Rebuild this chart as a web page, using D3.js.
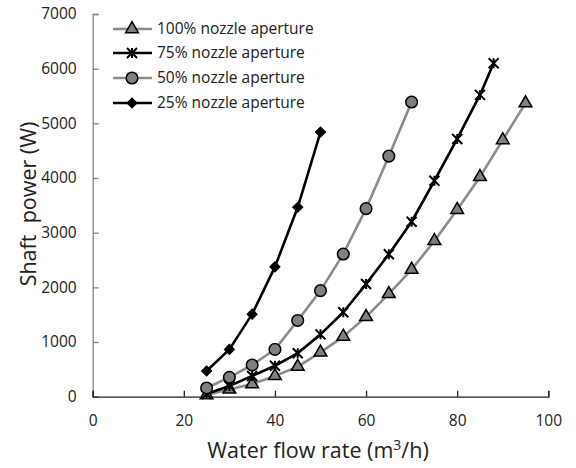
<!DOCTYPE html>
<html>
<head>
<meta charset="utf-8">
<script src="https://cdn.jsdelivr.net/npm/d3@7"></script>
<style>
html,body{margin:0;padding:0;background:#fff;}
svg{display:block;font-family:"Open Sans","Noto Sans",sans-serif;}
</style>
</head>
<body>
<svg id="chart" width="576" height="468"></svg>
<script>
const seriesNames = ["100% nozzle aperture","75% nozzle aperture","50% nozzle aperture","25% nozzle aperture"];
const flow100 = [25,30,35,40,45,50,55,60,65,70,75,80,85,90,95];
const power100 = [30,135,230,380,550,810,1100,1460,1880,2325,2850,3420,4020,4695,5370];
const flow75 = [25,30,35,40,45,50,55,60,65,70,75,80,85,88];
const power75 = [50,195,380,565,795,1140,1545,2060,2605,3200,3950,4715,5520,6100];
const flow50 = [25,30,35,40,45,50,55,60,65,70];
const power50 = [160,355,580,865,1395,1940,2610,3440,4400,5390];
const flow25 = [25,30,35,40,45,50];
const power25 = [470,865,1510,2375,3465,4840];
const xTicks = [0,20,40,60,80,100];
const yTicks = [0,1000,2000,3000,4000,5000,6000,7000];

const series = [
  {name: seriesNames[0], xs: flow100, ys: power100, line: "#8c8c8c", marker: "triangle", fill: "#7f7f7f"},
  {name: seriesNames[1], xs: flow75, ys: power75, line: "#000", marker: "asterisk", fill: "#000"},
  {name: seriesNames[2], xs: flow50, ys: power50, line: "#8c8c8c", marker: "circle", fill: "#7f7f7f"},
  {name: seriesNames[3], xs: flow25, ys: power25, line: "#000", marker: "diamond", fill: "#000"}
];

const svg = d3.select("#chart");
const x = d3.scaleLinear().domain([0,100]).range([92.7,548.3]);
const y = d3.scaleLinear().domain([0,7000]).range([396.7,14]);

// y axis
const yAxis = d3.axisLeft(y).tickValues(yTicks).tickSize(-6).tickPadding(16).tickFormat(d3.format("d"));
const gy = svg.append("g").attr("transform","translate(92.7,0)").call(yAxis);
gy.select(".domain").attr("stroke","#868686").attr("stroke-width",1.3);
gy.selectAll(".tick line").attr("stroke","#868686").attr("stroke-width",1.3);
gy.selectAll(".tick text").attr("font-size",15.5).attr("fill","#222").attr("font-family","Open Sans, sans-serif");

// x axis
const xAxis = d3.axisBottom(x).tickValues(xTicks).tickSize(-6).tickPadding(18);
const gx = svg.append("g").attr("transform","translate(0,396.7)").call(xAxis);
gx.select(".domain").attr("stroke","#222").attr("stroke-width",1.3);
gx.selectAll(".tick line").attr("stroke","#222").attr("stroke-width",1.3);
gx.selectAll(".tick text").attr("font-size",15.5).attr("fill","#222").attr("font-family","Open Sans, sans-serif");

// axis titles
svg.append("text").attr("x",318).attr("y",458).attr("text-anchor","middle")
  .attr("font-size",21.5).attr("fill","#222")
  .call(t => { t.append("tspan").text("Water flow rate (m");
               t.append("tspan").attr("dy",-8).attr("font-size",14).text("3");
               t.append("tspan").attr("dy",8).text("/h)"); });
svg.append("text").attr("transform","translate(36,204) rotate(-90)").attr("text-anchor","middle")
  .attr("font-size",21.5).attr("fill","#222").style("white-space","pre").text("Shaft  power (W)");

const line = d3.line().x(d => x(d[0])).y(d => y(d[1]));

function drawMarker(g, type, fill, cx, cy) {
  if (type === "triangle") {
    g.append("path").attr("d", d3.symbol().type(d3.symbolTriangle).size(70)())
      .attr("transform",`translate(${cx},${cy})`).attr("fill",fill).attr("stroke","#000").attr("stroke-width",1.5);
  } else if (type === "circle") {
    g.append("circle").attr("cx",cx).attr("cy",cy).attr("r",5.8).attr("fill",fill).attr("stroke","#000").attr("stroke-width",1.5);
  } else if (type === "diamond") {
    g.append("path").attr("d", d3.symbol().type(d3.symbolSquare).size(52)())
      .attr("transform",`translate(${cx},${cy}) rotate(45)`).attr("fill",fill).attr("stroke","#000").attr("stroke-width",1);
  } else if (type === "asterisk") {
    const s = 5;
    g.append("path").attr("d",`M${-s},${-s}L${s},${s}M${-s},${s}L${s},${-s}M0,${-s}L0,${s}`)
      .attr("transform",`translate(${cx},${cy})`).attr("fill","none").attr("stroke","#000").attr("stroke-width",2);
  }
}

series.forEach(s => {
  const pts = s.xs.map((v,i) => [v, s.ys[i]]);
  svg.append("path").datum(pts).attr("d",line).attr("fill","none")
    .attr("stroke",s.line).attr("stroke-width",2.6).attr("stroke-linejoin","round");
  const g = svg.append("g");
  pts.forEach(p => drawMarker(g, s.marker, s.fill, x(p[0]), y(p[1])));
});

// legend
const legendRows = [29,53,78,103];
series.forEach((s,i) => {
  const ly = legendRows[i];
  const g = svg.append("g");
  g.append("line").attr("x1",113).attr("x2",152).attr("y1",ly).attr("y2",ly)
    .attr("stroke",s.line).attr("stroke-width",2.6);
  drawMarker(g, s.marker, s.fill, 132, ly);
  g.append("text").attr("x",157).attr("y",ly).attr("dy","0.35em")
    .attr("font-size",15.5).attr("fill","#222").text(s.name);
});
</script>
</body>
</html>
